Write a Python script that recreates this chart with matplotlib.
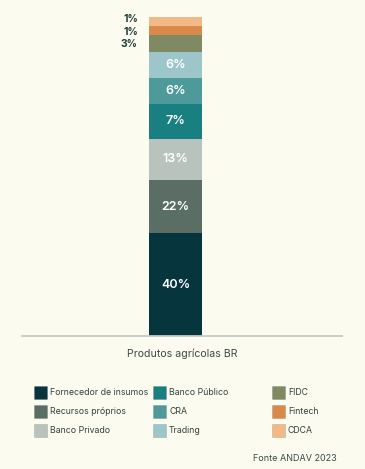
import matplotlib.pyplot as plt
from matplotlib.patches import Rectangle

# segment names, bottom to top
sources = ["Fornecedor de insumos", "Recursos próprios", "Banco Privado",
           "Banco Público", "CRA", "Trading",
           "FIDC", "Fintech", "CDCA"]
# drawn heights of each segment
heights = [32.1, 16.7, 12.9, 10.9, 8.2, 7.9, 5.6, 2.8, 2.7]
# text shown on each segment
pct_labels = ["40%", "22%", "13%", "7%", "6%", "6%", "3%", "1%", "1%"]
colors = ["#06353d", "#5a6e66", "#b9c3be", "#1a7f80", "#4e9a9b",
          "#9cc6c9", "#7f8a63", "#d98a4a", "#f2b886"]
categories = ["Produtos agrícolas BR"]
source_note = "Fonte ANDAV 2023"

BG = "#fbfcef"
plt.rcParams["font.family"] = ["Inter", "DejaVu Sans"]

W, H = 365, 469
fig = plt.figure(figsize=(W / 100, H / 100), dpi=100, facecolor=BG)
ax = fig.add_axes([22 / W, (H - 336) / H, 320 / W, (336 - 17) / H])
ax.set_facecolor(BG)

# small outside labels get nudged apart a little
nudge = {7: -0.5, 8: 0.7}

bottom = 0
for i, (h, lab, c) in enumerate(zip(heights, pct_labels, colors)):
    ax.bar(0.48, h, width=0.166, bottom=bottom, color=c, edgecolor="none")
    mid = bottom + h / 2
    if h > 6:
        ax.text(0.48, mid, lab, ha="center", va="center", color="white",
                fontsize=9, fontweight="semibold")
    else:
        ax.text(0.362, mid + nudge.get(i, 0), lab, ha="right", va="center",
                color="#1d3a3a", fontsize=7.4, fontweight="bold")
    bottom += h

ax.set_xlim(0, 1)
ax.set_ylim(0, sum(heights))
for s in ["top", "right", "left"]:
    ax.spines[s].set_visible(False)
ax.spines["bottom"].set_color("#c5cbc5")
ax.spines["bottom"].set_linewidth(1.3)
ax.set_xticks([])
ax.set_yticks([])
ax.set_xlabel(categories[0], fontsize=7.6, color="#3d4a48", labelpad=9)

# legend, three columns of three
col_x = [34, 153, 272]
row_y = [392, 411, 430]
for i, (name, c) in enumerate(zip(sources, colors)):
    x0 = col_x[i // 3]
    y0 = row_y[i % 3]
    fig.patches.append(Rectangle((x0 / W, (H - y0 - 6.5) / H), 13 / W, 13 / H,
                                 transform=fig.transFigure, facecolor=c,
                                 edgecolor="#00000022", linewidth=0.6))
    fig.text((x0 + 16) / W, (H - y0) / H, name, ha="left", va="center",
             fontsize=6.3, color="#34403f")

fig.text(337 / W, (H - 458) / H, source_note, ha="right", va="center",
         fontsize=6.5, color="#3a4a48")

fig.savefig("out.png", dpi=100, facecolor=BG)
